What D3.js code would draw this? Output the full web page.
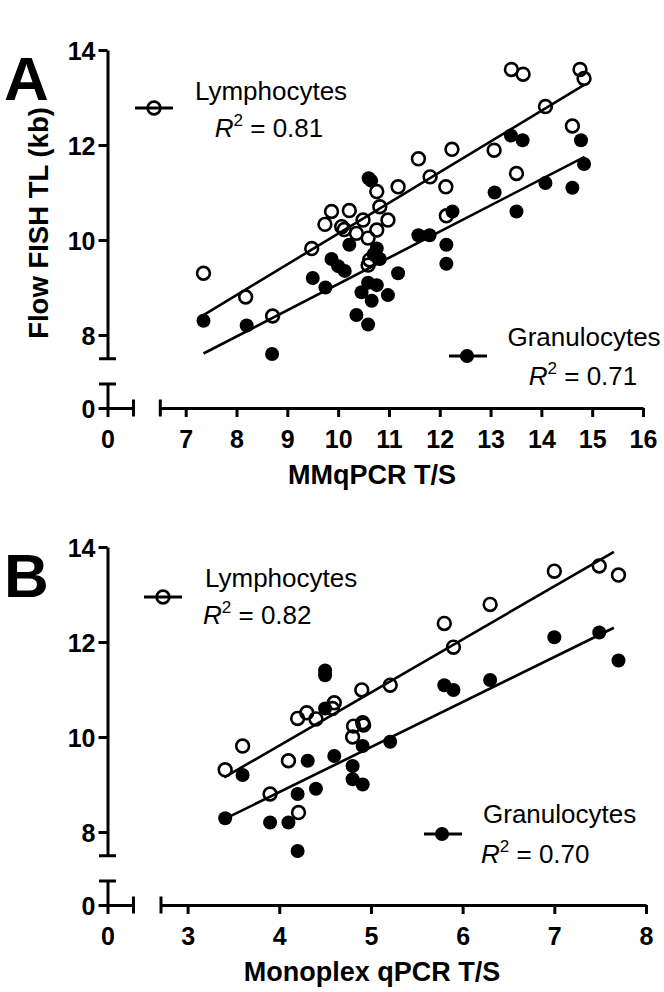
<!DOCTYPE html>
<html><head><meta charset="utf-8">
<script src="https://cdn.jsdelivr.net/npm/d3@7"></script>
<style>
body{margin:0;background:#fff}
svg{display:block}
text{font-family:"Liberation Sans",Arial,Helvetica,sans-serif;fill:#000}
</style>
</head><body>
<svg id="chart" width="664" height="992"></svg>
<script>
// ---------- DATA ----------
const seriesNames = ["Lymphocytes", "Granulocytes"];

// Panel A: MMqPCR T/S vs Flow FISH TL (kb)
const lymphA = [[7.35,9.3],[8.18,8.8],[8.71,8.4],[9.48,9.82],[9.74,10.33],[9.87,10.6],[10.22,10.62],
  [10.07,10.28],[10.12,10.22],[10.36,10.14],[10.49,10.42],[10.59,10.04],[10.62,9.58],[10.59,9.47],
  [10.76,11.02],[10.82,10.7],[10.98,10.42],[10.76,10.21],[11.18,11.12],[11.58,11.71],[11.81,11.33],
  [12.12,11.12],[12.13,10.51],[12.24,11.91],[13.07,11.89],[13.41,13.59],[13.64,13.49],[13.51,11.4],
  [14.08,12.81],[14.61,12.4],[14.76,13.59],[14.84,13.4]];
const granA = [[7.35,8.3],[8.2,8.2],[8.7,7.6],[9.5,9.2],[9.75,9.0],[9.87,9.6],[10.0,9.45],[10.13,9.35],
  [10.22,9.9],[10.36,8.42],[10.46,8.9],[10.59,9.1],[10.59,8.22],[10.6,11.3],[10.65,11.25],[10.66,8.72],
  [10.7,9.7],[10.76,9.82],[10.76,9.05],[10.82,9.6],[10.98,8.84],[11.18,9.3],[11.58,10.1],[11.8,10.1],
  [12.13,9.9],[12.13,9.5],[12.25,10.6],[13.08,11.0],[13.4,12.2],[13.51,10.6],[13.63,12.1],[14.08,11.2],
  [14.61,11.1],[14.78,12.1],[14.84,11.6]];
const fitLymphA = [[7.35,8.42],[14.85,13.27]];
const fitGranA = [[7.35,7.61],[14.85,11.75]];
const r2A = ["0.81", "0.71"];

// Panel B: Monoplex qPCR T/S vs Flow FISH TL (kb)
const lymphB = [[3.41,9.31],[3.6,9.81],[3.9,8.8],[4.1,9.5],[4.2,10.39],[4.21,8.41],[4.3,10.51],[4.4,10.38],
  [4.6,10.72],[4.58,10.6],[4.8,10.0],[4.81,10.23],[4.91,10.3],[4.92,10.25],[4.9,10.99],[5.21,11.09],
  [5.8,12.39],[5.9,11.89],[6.3,12.79],[7.0,13.49],[7.49,13.6],[7.7,13.41]];
const granB = [[3.41,8.29],[3.6,9.2],[3.9,8.2],[4.1,8.2],[4.2,8.8],[4.2,7.6],[4.31,9.5],[4.4,8.91],
  [4.5,11.4],[4.5,11.3],[4.5,10.6],[4.6,9.6],[4.8,9.39],[4.8,9.11],[4.91,9.81],[4.91,9.0],[5.21,9.9],
  [5.8,11.09],[5.9,10.99],[6.3,11.2],[7.0,12.1],[7.49,12.2],[7.7,11.61]];
const fitLymphB = [[3.4,9.15],[7.65,13.9]];
const fitGranB = [[3.4,8.27],[7.65,12.3]];
const r2B = ["0.82", "0.70"];

const yTicks = [8, 10, 12, 14];
const yTicksLow = [0];
const xTicksLow = [0];
const xTicksA = [7, 8, 9, 10, 11, 12, 13, 14, 15, 16];
const xTicksB = [3, 4, 5, 6, 7, 8];
const yTitle = "Flow FISH TL (kb)";
const xTitleA = "MMqPCR T/S";
const xTitleB = "Monoplex qPCR T/S";

// ---------- DRAW ----------
const svg = d3.select("#chart");
const AX = 107.5;
const fmt = d3.format("d");

function styleAxis(g){
  g.select(".domain").attr("stroke","#000").attr("stroke-width",3);
  g.selectAll(".tick line").attr("stroke","#000").attr("stroke-width",3);
  g.selectAll(".tick text").attr("font-size",25).attr("font-weight","bold").attr("fill","#000");
}

function cap(g, x1, y1, x2, y2){
  g.append("line").attr("x1",x1).attr("y1",y1).attr("x2",x2).attr("y2",y2)
    .attr("stroke","#000").attr("stroke-width",3);
}

function r2Text(g, x, y, anchor, val){
  const t = g.append("text").attr("x",x).attr("y",y).attr("text-anchor",anchor).attr("font-size",26);
  t.append("tspan").attr("font-style","italic").text("R");
  t.append("tspan").attr("dy",-11).attr("font-size",17).text("2");
  t.append("tspan").attr("dy",11).text(" = " + val);
}

function panel(cfg){
  const g = svg.append("g");
  const yUp = d3.scaleLinear().domain([7.5,14]).range([cfg.y0 + 308.75, cfg.y0]);
  const yLow = d3.scaleLinear().domain([0,0.5]).range([cfg.y0 + 358, cfg.y0 + 334]);
  const xLow = d3.scaleLinear().domain(cfg.xLowDom).range([AX, AX + 26]);
  const xUp = d3.scaleLinear().domain(cfg.xDom).range(cfg.xRange);
  const xAxisY = yLow(0);

  // y axis upper
  const gy = g.append("g").attr("transform",`translate(${AX},0)`)
    .call(d3.axisLeft(yUp).tickValues(yTicks).tickFormat(fmt).tickSize(9).tickSizeOuter(0));
  styleAxis(gy);
  gy.selectAll(".tick text").attr("x",-12).attr("dy","0.36em");
  cap(g, AX-8.5, yUp(7.5), AX+8.5, yUp(7.5));

  // y axis lower
  const gy2 = g.append("g").attr("transform",`translate(${AX},0)`)
    .call(d3.axisLeft(yLow).tickValues(yTicksLow).tickFormat(fmt).tickSize(9).tickSizeOuter(0));
  styleAxis(gy2);
  gy2.selectAll(".tick text").attr("x",-12).attr("dy","0.36em");
  cap(g, AX-8.5, yLow(0.5), AX+8.5, yLow(0.5));

  // x axis left segment
  const gx1 = g.append("g").attr("transform",`translate(0,${xAxisY})`)
    .call(d3.axisBottom(xLow).tickValues(xTicksLow).tickFormat(fmt).tickSize(9).tickSizeOuter(0));
  styleAxis(gx1);
  gx1.selectAll(".tick text").attr("y",40).attr("dy",null);
  cap(g, xLow(cfg.xLowDom[1]), xAxisY-8.5, xLow(cfg.xLowDom[1]), xAxisY+8.5);

  // x axis right segment
  const gx2 = g.append("g").attr("transform",`translate(0,${xAxisY})`)
    .call(d3.axisBottom(xUp).tickValues(cfg.xTicks).tickFormat(fmt).tickSize(9).tickSizeOuter(0));
  styleAxis(gx2);
  gx2.selectAll(".tick text").attr("y",40).attr("dy",null);
  cap(g, xUp(cfg.xDom[0]), xAxisY-8.5, xUp(cfg.xDom[0]), xAxisY+8.5);

  // x title
  g.append("text").attr("x",372).attr("y",cfg.y0 + cfg.xTitleDy).attr("text-anchor","middle")
    .attr("font-size",27).attr("font-weight","bold").text(cfg.xTitle);

  // panel letter
  g.append("text").attr("x",4).attr("y",cfg.y0 + cfg.letterDy).attr("font-size",62)
    .attr("font-weight","bold").text(cfg.letter);

  // fit lines
  const line = d3.line().x(d=>xUp(d[0])).y(d=>yUp(d[1]));
  [cfg.fitL, cfg.fitG].forEach(f=>{
    g.append("path").attr("d",line(f)).attr("fill","none").attr("stroke","#000").attr("stroke-width",2.6);
  });

  // points
  g.append("g").selectAll("circle").data(cfg.gran).join("circle")
    .attr("cx",d=>xUp(d[0])).attr("cy",d=>yUp(d[1])).attr("r",7).attr("fill","#000");
  g.append("g").selectAll("circle").data(cfg.lymph).join("circle")
    .attr("cx",d=>xUp(d[0])).attr("cy",d=>yUp(d[1])).attr("r",6.4)
    .attr("fill","none").attr("stroke","#000").attr("stroke-width",2.6);

  // legends
  const L = cfg.legL, G = cfg.legG;
  cap(g, L.lx1, L.ly, L.lx2, L.ly);
  g.append("circle").attr("cx",L.cx).attr("cy",L.ly).attr("r",6.4).attr("fill","none")
    .attr("stroke","#000").attr("stroke-width",2.6);
  g.append("text").attr("x",L.tx).attr("y",L.t1).attr("text-anchor",L.anchor).attr("font-size",26).text(seriesNames[0]);
  r2Text(g, L.rx, L.t2, L.anchor, cfg.r2[0]);

  cap(g, G.lx1, G.ly, G.lx2, G.ly);
  g.append("circle").attr("cx",G.cx).attr("cy",G.ly).attr("r",7).attr("fill","#000");
  g.append("text").attr("x",G.tx).attr("y",G.t1).attr("text-anchor",G.anchor).attr("font-size",26).text(seriesNames[1]);
  r2Text(g, G.rx, G.t2, G.anchor, cfg.r2[1]);
}

panel({
  letter:"A", letterDy:50, y0:50, xDom:[6.5,16], xRange:[160.3,643], xLowDom:[0,0.5], xTicks:xTicksA,
  xTitle:xTitleA, xTitleDy:434, lymph:lymphA, gran:granA, fitL:fitLymphA, fitG:fitGranA, r2:r2A,
  legL:{lx1:135,lx2:173,ly:108,cx:154,tx:271,rx:269,t1:100,t2:137,anchor:"middle"},
  legG:{lx1:449,lx2:487,ly:356,cx:467,tx:584,rx:583,t1:346,t2:385,anchor:"middle"}
});
panel({
  letter:"B", letterDy:50, y0:547, xDom:[2.71,8], xRange:[161,646], xLowDom:[0,0.29], xTicks:xTicksB,
  xTitle:xTitleB, xTitleDy:434, lymph:lymphB, gran:granB, fitL:fitLymphB, fitG:fitGranB, r2:r2B,
  legL:{lx1:144,lx2:182,ly:597,cx:163,tx:205,rx:203,t1:587,t2:624,anchor:"start"},
  legG:{lx1:424,lx2:462,ly:834,cx:442,tx:483,rx:481,t1:823,t2:863,anchor:"start"}
});

// y title (panel A only)
svg.append("text").attr("transform","translate(48,223) rotate(-90)").attr("text-anchor","middle")
  .attr("font-size",27.5).attr("font-weight","bold").text(yTitle);
</script>
</body></html>
